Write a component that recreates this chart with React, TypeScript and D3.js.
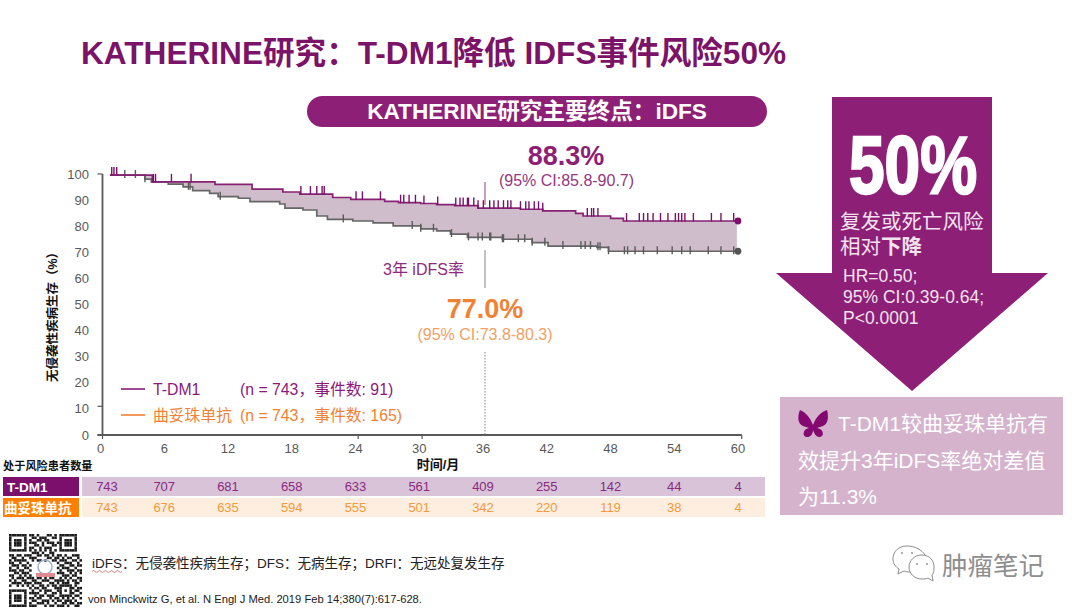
import { useRef, useEffect } from 'react';
import * as d3 from 'd3';

const WIDTH = 1080;
const HEIGHT = 612;
const FONT = '"Liberation Sans","Noto Sans CJK SC",sans-serif';

const PURPLE = '#8e1f76';
const DEEP = '#7d0f6c';
const ORANGE = '#f08235';
const AXIS = '#595959';

// month, % event free
const tdm1Months = [0.7, 4.7, 10.6, 14.1, 17, 18.6, 21.7, 23.4, 26.6, 27.9, 30, 31.5, 33.2, 35.4, 39.4, 41.5, 44.6, 45.3, 47.9, 49.1, 59.8];
const tdm1Surv = [99.6, 97, 96, 94.2, 93.1, 92.3, 91, 90.3, 89.5, 89, 88.7, 88.3, 87.9, 86.9, 86.5, 85.9, 84.9, 83.9, 83, 82, 82];
const trasMonths = [0.7, 4, 4.6, 6.2, 7.6, 8.5, 10.1, 10.9, 12.8, 13.9, 16.7, 17.2, 18.9, 20.2, 21.2, 23.6, 25.5, 27.4, 30, 31.5, 32.8, 34.4, 37.7, 40.5, 42, 46.6, 47.7, 59.8];
const trasSurv = [99.6, 98, 97, 96.1, 95.1, 93.6, 92.6, 91.3, 90.7, 89.4, 88.5, 86.9, 86.2, 83.9, 82.6, 82, 81.3, 80.1, 79, 78.2, 77, 75.7, 75, 73.7, 72.4, 71.9, 70.4, 70.4];

// censoring marks, months
const tdm1Censor = [0.87, 1.08, 1.34, 4.8, 5, 6.5, 8.35, 18.7, 19.6, 20.2, 20.7, 20.9, 23.9, 24.5, 26.2, 28.1, 28.4, 28.9, 29.5, 30.3, 31.6, 33.3, 33.7, 34, 34.4, 34.5, 35, 35.4, 35.9, 36.5, 36.9, 37.3, 37.8, 38.2, 38.5, 39.4, 39.9, 40.2, 40.7, 41.1, 41.5, 45.7, 46.1, 46.3, 46.7, 49.4, 50.6, 51, 51.4, 51.9, 52.6, 53.3, 54, 54.3, 54.6, 54.9, 55.7, 57.4, 58.3, 59.5];
const trasCensor = [2.1, 3.1, 4, 8.1, 8.25, 11.1, 22.7, 29.2, 30, 31.2, 32.9, 34.5, 35.4, 35.8, 36.5, 36.6, 37.7, 37.8, 39.2, 39.8, 40.5, 41.7, 43.4, 45.1, 45.5, 46, 46.7, 46.9, 47.7, 49.2, 49.5, 50.2, 51, 52.3, 53.7, 54.6, 55.4, 57.1, 58.3, 59.5];

const xLabels = [0, 6, 12, 18, 24, 30, 36, 42, 48, 54, 60];
const yLabels = [0, 10, 20, 30, 40, 50, 60, 70, 80, 90, 100];
const yTickMarks = [0, 11, 100];
const xTickMarks = [0, 24, 30, 60];
const atRiskTdm1 = [743, 707, 681, 658, 633, 561, 409, 255, 142, 44, 4];
const atRiskTras = [743, 676, 635, 594, 555, 501, 342, 220, 119, 38, 4];

const qrRows = [
  '11111110110100011010111111100',
  '10000010011011100110100000100',
  '10111010100110110000101110100',
  '10111010111001011101101110100',
  '10111010001101000110101110100',
  '10000010110010111000100000100',
  '11111110101010101010111111100',
  '00000000011101001100000000000',
  '11011011100110110101101001110',
  '01100100111000011011010110010',
  '10111110010110100110111001101',
  '11001001000000000001001110010',
  '01110110100000000000110011011',
  '10010011000000000001011100100',
  '11101100100000000000100111011',
  '00110111000000000001110010101',
  '11001010100000000000011101100',
  '01011101110110101100101010011',
  '10100110011001110011110101101',
  '01111011101110001101011100110',
  '10010101010011010110111110100',
  '00000000101101100011100011011',
  '11111110010010111001101010110',
  '10000010111100100110100011001',
  '10111010001011011100111110110',
  '10111010110110001011010101001',
  '10111010011001110101101110100',
  '10000010100111010010011011011',
  '11111110111000101101110100110',
];

export default function App() {
  const svgRef = useRef<SVGSVGElement>(null);

  useEffect(() => {
    if (!svgRef.current) return;
    const svg = d3.select(svgRef.current);
    svg.selectAll('*').remove();

    const text = (
      parent: d3.Selection<any, any, any, any>,
      s: string, x: number, y: number, size: number, fill: string,
      anchor = 'start', weight = 'normal',
    ) => parent.append('text')
      .attr('x', x).attr('y', y)
      .attr('font-family', FONT).attr('font-size', size)
      .attr('fill', fill).attr('text-anchor', anchor).attr('font-weight', weight)
      .text(s);

    const x = d3.scaleLinear().domain([0, 60]).range([102.5, 739]);
    const axisX = d3.scaleLinear().domain([0, 60]).range([102.5, 741.7]);
    const labelX = d3.scaleLinear().domain([0, 60]).range([100.5, 738]);
    const y = d3.scaleLinear().domain([0, 100]).range([435, 174]);

    // Title + pill
    text(svg, 'KATHERINE研究：T-DM1降低 IDFS事件风险50%', 81, 64, 31.6, '#7b1368', 'start', 'bold');
    svg.append('rect').attr('x', 307).attr('y', 96).attr('width', 460).attr('height', 31).attr('rx', 15.5).attr('fill', PURPLE);
    text(svg, 'KATHERINE研究主要终点：iDFS', 537, 119, 22.6, '#fff', 'middle', 'bold');

    // Band between the curves
    const stepAt = (months: number[], vals: number[], t: number) =>
      vals[Math.max(0, d3.bisectRight(months, t) - 1)];
    const allMonths = Array.from(new Set([...tdm1Months, ...trasMonths])).sort((a, b) => a - b);
    const band = d3.area<number>()
      .x((t) => x(t))
      .y0((t) => y(stepAt(trasMonths, trasSurv, t)))
      .y1((t) => y(stepAt(tdm1Months, tdm1Surv, t)))
      .curve(d3.curveStepAfter);
    svg.append('path').datum(allMonths).attr('fill', '#cfbdcb').attr('d', band);

    // Curves
    const line = d3.line<[number, number]>()
      .x((d) => x(d[0])).y((d) => y(d[1]))
      .curve(d3.curveStepAfter);
    const curves = [
      { months: trasMonths, surv: trasSurv, censor: trasCensor, color: '#666', tick: '#5c5c5c', up: 5, down: 3, dot: '#555' },
      { months: tdm1Months, surv: tdm1Surv, censor: tdm1Censor, color: '#862274', tick: DEEP, up: 8, down: 0.5, dot: DEEP },
    ];
    curves.forEach((c) => {
      svg.append('path')
        .datum(c.months.map((m, i) => [m, c.surv[i]] as [number, number]))
        .attr('fill', 'none').attr('stroke', c.color).attr('stroke-width', 1.7).attr('d', line);
      svg.append('g').attr('stroke', c.tick).attr('stroke-width', 1.4)
        .selectAll('line').data(c.censor).join('line')
        .attr('x1', (t) => x(t)).attr('x2', (t) => x(t))
        .attr('y1', (t) => y(stepAt(c.months, c.surv, t)) - c.up)
        .attr('y2', (t) => y(stepAt(c.months, c.surv, t)) + c.down);
      svg.append('circle')
        .attr('cx', x(59.9)).attr('cy', y(c.surv[c.surv.length - 1])).attr('r', 3.4).attr('fill', c.dot);
    });

    // Axes
    const axis = svg.append('g').attr('stroke', AXIS).attr('fill', 'none');
    axis.append('line').attr('x1', axisX(0)).attr('x2', axisX(0)).attr('y1', y(100)).attr('y2', y(0)).attr('stroke-width', 1.8);
    axis.append('line').attr('x1', axisX(0) - 5).attr('x2', axisX(60)).attr('y1', y(0)).attr('y2', y(0)).attr('stroke-width', 1.8);
    axis.selectAll('line.yt').data(yTickMarks).join('line').attr('class', 'yt')
      .attr('x1', axisX(0) - 5).attr('x2', axisX(0)).attr('y1', (d) => y(d)).attr('y2', (d) => y(d)).attr('stroke-width', 1.2);
    axis.selectAll('line.xt').data(xTickMarks).join('line').attr('class', 'xt')
      .attr('x1', (d) => axisX(d)).attr('x2', (d) => axisX(d)).attr('y1', y(0)).attr('y2', y(0) + 4).attr('stroke-width', 1.2);
    yLabels.forEach((v) => text(svg, String(v), 89, y(v) + 4.5, 13, AXIS, 'end'));
    xLabels.forEach((v) => text(svg, String(v), labelX(v), 453, 13, AXIS, 'middle'));
    text(svg, '时间/月', 438, 469, 13, '#111', 'middle', 'bold');
    text(svg, '无侵袭性疾病生存（%）', 0, 0, 12.5, '#111', 'middle', 'bold')
      .attr('transform', 'translate(57,314) rotate(-90)');

    // 36 month annotations
    const x36 = labelX(36) + 2;
    const guides = [
      { y1: 182, y2: 205, color: PURPLE, dash: null },
      { y1: 250, y2: 288, color: '#777', dash: null },
      { y1: 352, y2: 435, color: '#777', dash: '1.5 1.5' },
    ];
    guides.forEach((g) => svg.append('line')
      .attr('x1', x36).attr('x2', x36).attr('y1', g.y1).attr('y2', g.y2)
      .attr('stroke', g.color).attr('stroke-width', 0.9)
      .attr('stroke-dasharray', g.dash));
    text(svg, '88.3%', 566, 165, 27, PURPLE, 'middle', 'bold');
    text(svg, '(95% CI:85.8-90.7)', 566.5, 186, 16, '#93377f', 'middle');
    text(svg, '3年 iDFS率', 383, 275, 16, '#8e2a7e');
    text(svg, '77.0%', 485, 318, 27, ORANGE, 'middle', 'bold');
    text(svg, '(95% CI:73.8-80.3)', 485, 340, 16, '#f2a064', 'middle');

    // Legend
    const legend = [
      { name: 'T-DM1', note: '(n = 743，事件数: 91)', color: '#8a1a7a', yy: 389 },
      { name: '曲妥珠单抗', note: '(n = 743，事件数: 165)', color: ORANGE, yy: 415 },
    ];
    legend.forEach((l) => {
      svg.append('line').attr('x1', 121).attr('x2', 145).attr('y1', l.yy).attr('y2', l.yy)
        .attr('stroke', l.color).attr('stroke-width', 1.6);
      text(svg, l.name, 153, l.yy + 5.5, 15.8, l.color);
      text(svg, l.note, 240, l.yy + 5.5, 15.8, l.color);
    });

    // At-risk table
    text(svg, '处于风险患者数量', 3, 470, 11.2, '#111', 'start', 'bold');
    const rows = [
      { label: 'T-DM1', vals: atRiskTdm1, box: DEEP, bg: '#d8c3d8', color: '#8a2a80', top: 477, lx: 7 },
      { label: '曲妥珠单抗', vals: atRiskTras, box: '#ff8000', bg: '#fdeee0', color: '#f59a3c', top: 498, lx: 4 },
    ];
    rows.forEach((r) => {
      svg.append('rect').attr('x', 3).attr('y', r.top).attr('width', 76).attr('height', 19).attr('fill', r.box);
      svg.append('rect').attr('x', 82).attr('y', r.top).attr('width', 683).attr('height', 19).attr('fill', r.bg);
      text(svg, r.label, r.lx, r.top + 15, 13.5, '#fff', 'start', 'bold');
      r.vals.forEach((v, i) => text(svg, String(v), Math.max(107, labelX(xLabels[i])), r.top + 14, 13, r.color, 'middle'));
    });

    // Big arrow
    svg.append('path').attr('fill', PURPLE)
      .attr('d', 'M832,97H992V273H1048L912,391L776,273H832Z');
    text(svg, '50%', 849, 193, 82, '#fff', 'start', 'bold')
      .attr('textLength', 128).attr('lengthAdjust', 'spacingAndGlyphs')
      .attr('stroke', '#fff').attr('stroke-width', 2.4)
      .attr('font-family', '"Liberation Sans Narrow",' + FONT);
    text(svg, '复发或死亡风险', 840, 229, 20.5, '#f3e3ef');
    const rel = text(svg, '相对', 840, 254, 20.5, '#f3e3ef');
    rel.append('tspan').attr('font-weight', 'bold').text('下降');
    ['HR=0.50;', '95% CI:0.39-0.64;', 'P<0.0001'].forEach((s, i) =>
      text(svg, s, 843, 282 + i * 21, 17.5, '#f3e3ef'));

    // Takeaway box
    svg.append('rect').attr('x', 780).attr('y', 397).attr('width', 283).attr('height', 118).attr('fill', '#d5b3cd');
    svg.append('path').attr('fill', '#83086f')
      .attr('d', 'M813,425C810,417 805,412 800,410C797,417 798,424 803,426C805,427 807,427 809,428C802,429 802,438 808,437C811,437 813,433 813,430C814,433 816,437 819,437C825,437 824,429 817,428C819,427 821,427 823,426C828,424 829,417 827,410C821,412 816,417 813,425Z');
    text(svg, 'T-DM1较曲妥珠单抗有', 838, 431, 21, '#fff');
    text(svg, '效提升3年iDFS率绝对差值', 798, 468, 21, '#fff');
    text(svg, '为11.3%', 798, 504, 21, '#fff');

    // Footer
    text(svg, 'iDFS：无侵袭性疾病生存；DFS：无病生存；DRFI：无远处复发生存', 92, 568, 13.5, '#222');
    svg.append('path').attr('fill', 'none').attr('stroke', '#e05050').attr('stroke-width', 0.7)
      .attr('d', 'M92,571.5q1.5,-2 3,0t3,0t3,0t3,0t3,0t3,0t3,0t3,0t3,0t3,0');
    text(svg, 'von Minckwitz G, et al. N Engl J Med. 2019 Feb 14;380(7):617-628.', 88, 603, 11.2, '#222');

    // QR code
    const qr = svg.append('g').attr('transform', 'translate(9,534)');
    const cell = 73 / qrRows.length;
    qrRows.forEach((row, r) => row.split('').forEach((c, k) => {
      if (c === '1') qr.append('rect').attr('x', k * cell).attr('y', r * cell).attr('width', cell).attr('height', cell).attr('fill', '#1a1a1a');
    }));
    qr.append('circle').attr('cx', 36).attr('cy', 33).attr('r', 7).attr('fill', 'none').attr('stroke', '#9fb0d0').attr('stroke-width', 1.5);
    qr.append('rect').attr('x', 27).attr('y', 39).attr('width', 19).attr('height', 4).attr('fill', '#e08a92');

    // Watermark
    const wm = svg.append('g').attr('fill', '#fff').attr('stroke', '#8c8c8c').attr('stroke-width', 1);
    wm.append('path').attr('d', 'M907,546C898,546 893,552 893,559C893,564 896,567 899,569L898,574L904,571C906,572 908,572 910,572L925,555C922,550 915,546 907,546Z');
    wm.append('path').attr('d', 'M922,555C914,555 909,561 909,567C909,574 915,579 922,579C924,579 926,579 928,578L933,581L932,575C934,573 934,570 934,567C934,561 930,555 922,555Z');
    [[902, 553], [912, 553], [917, 564], [927, 564]].forEach(([cx, cy]) =>
      wm.append('circle').attr('cx', cx).attr('cy', cy).attr('r', 0.9).attr('fill', '#8c8c8c').attr('stroke', 'none'));
    text(svg, '肿瘤笔记', 942, 575, 25.5, '#8e8e8e');
  }, []);

  return (
    <svg
      ref={svgRef}
      width={WIDTH}
      height={HEIGHT}
      viewBox={`0 0 ${WIDTH} ${HEIGHT}`}
      style={{ position: 'absolute', left: 0, top: 0, background: '#fff' }}
    />
  );
}
